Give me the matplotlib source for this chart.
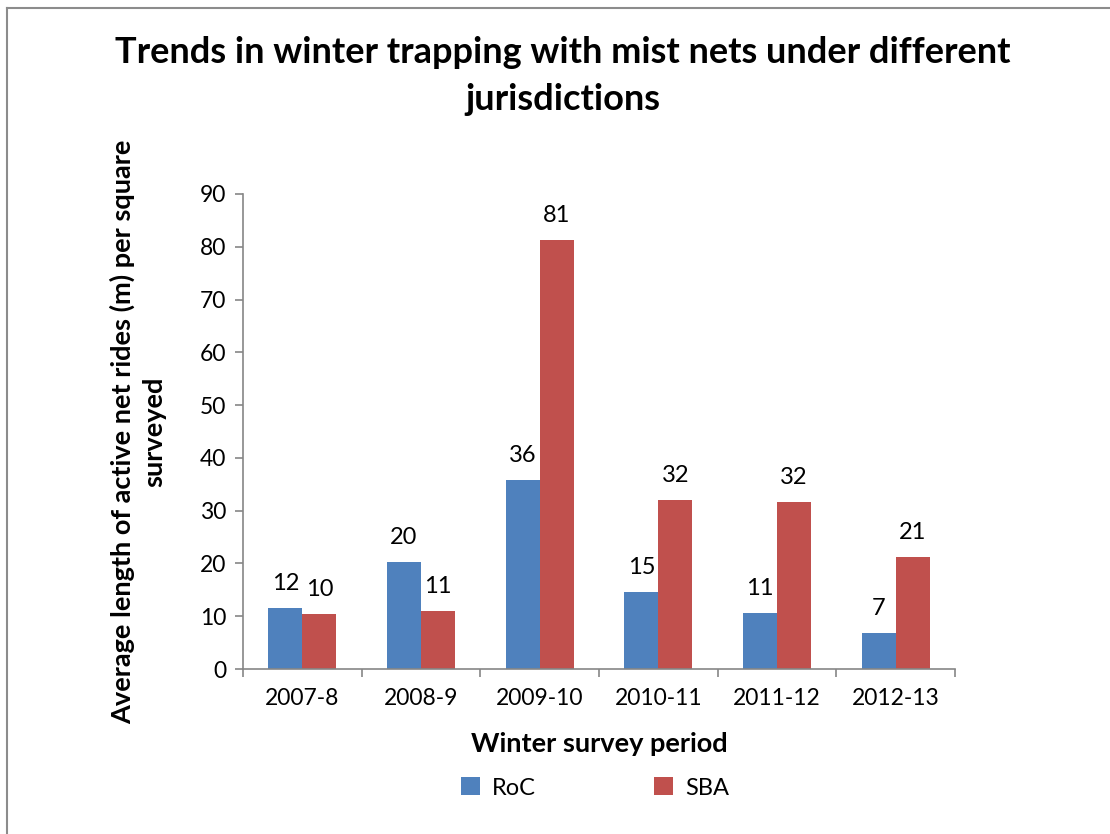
import matplotlib.pyplot as plt
import numpy as np
from matplotlib.lines import Line2D

periods = ['2007-8', '2008-9', '2009-10', '2010-11', '2011-12', '2012-13']
roc = [11.5, 20.2, 35.9, 14.6, 10.7, 6.9]
sba = [10.4, 11.0, 81.3, 32.1, 31.7, 21.2]
roc_labels = ['12', '20', '36', '15', '11', '7']
sba_labels = ['10', '11', '81', '32', '32', '21']

plt.rcParams['font.family'] = ['Lato', 'DejaVu Sans']

W, H = 1110, 834
fig = plt.figure(figsize=(W / 100, H / 100), dpi=100)
# chart frame: only the top and left edges show
fig.lines.append(Line2D([7 / W, 1], [1 - 7.5 / H, 1 - 7.5 / H], transform=fig.transFigure,
                        color='#8c8c8c', linewidth=1.5))
fig.lines.append(Line2D([7 / W, 7 / W], [0, 1 - 7.5 / H], transform=fig.transFigure,
                        color='#8c8c8c', linewidth=1.5))

ax = fig.add_axes([243 / W, 1 - 669 / H, (955 - 243) / W, (669 - 194) / H])

x = np.arange(len(periods))
w = 0.286
blue = '#4f81bd'
red = '#c0504d'
b1 = ax.bar(x - w / 2, roc, w, color=blue, label='RoC')
b2 = ax.bar(x + w / 2, sba, w, color=red, label='SBA')

for bars, labs in ((b1, roc_labels), (b2, sba_labels)):
    for b, t in zip(bars, labs):
        ax.annotate(t, (b.get_x() + b.get_width() / 2, b.get_height()),
                    xytext=(0, 10), textcoords='offset points',
                    ha='center', va='bottom', fontsize=17)

ax.set_xlim(-0.5, len(periods) - 0.5)
ax.set_ylim(0, 90)
ax.set_yticks(range(0, 91, 10))
ax.set_xticks(x)
ax.set_xticklabels(periods, fontsize=16.5)
ax.set_xticks(np.arange(-0.5, len(periods)), minor=True)
ax.tick_params(axis='x', which='major', length=0, pad=14)
ax.tick_params(axis='x', which='minor', length=6, color='#868686', width=1.2)
ax.tick_params(axis='y', labelsize=16.5, length=6, color='#868686', width=1.2, pad=6)

for s in ('top', 'right'):
    ax.spines[s].set_visible(False)
for s in ('left', 'bottom'):
    ax.spines[s].set_color('#868686')
    ax.spines[s].set_linewidth(1.2)

ax.set_xlabel('Winter survey period', fontsize=19.5, fontweight='bold', labelpad=16)
ax.set_ylabel('Average length of active net rides (m) per square\nsurveyed',
              fontsize=19.5, fontweight='bold', labelpad=24, linespacing=1.35)

fig.suptitle('Trends in winter trapping with mist nets under different\njurisdictions',
             x=563 / W, y=1 - 36 / H, va='top', fontsize=26, fontweight='bold', linespacing=1.5)

fig.legend(handles=[b1, b2], loc='center', bbox_to_anchor=(595 / W, 1 - 788 / H),
           ncol=2, frameon=False, fontsize=17, handlelength=0.8, handleheight=0.8,
           columnspacing=5, handletextpad=0.5)

fig.savefig('out.png', dpi=100)
